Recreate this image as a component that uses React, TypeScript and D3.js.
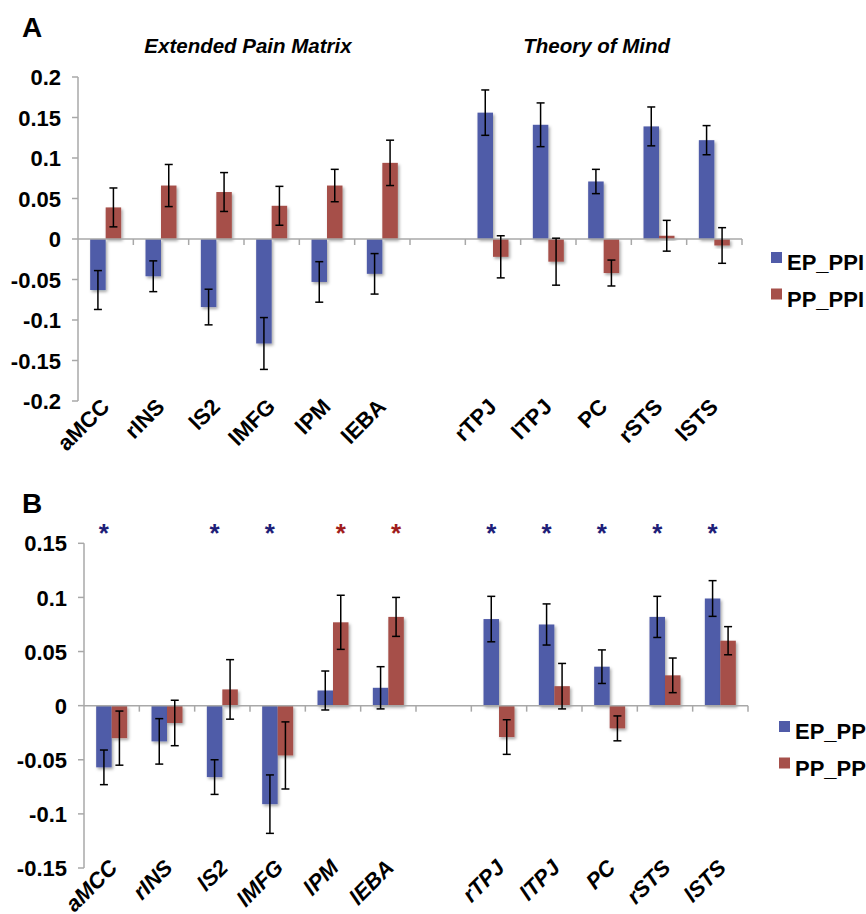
import React from "react";
import * as d3 from "d3";

const epmRegions = ["aMCC", "rINS", "lS2", "lMFG", "lPM", "lEBA"];
const tomRegions = ["rTPJ", "lTPJ", "PC", "rSTS", "lSTS"];
const regions = [...epmRegions, ...tomRegions];
const GAP = "__gap__";
const slots = [...epmRegions, GAP, ...tomRegions];
const seriesNames = ["EP_PPI", "PP_PPI"];

// Panel A
const aEP = [-0.063, -0.046, -0.084, -0.129, -0.053, -0.043, 0.156, 0.141, 0.071, 0.139, 0.122];
const aEPerr = [0.024, 0.019, 0.022, 0.032, 0.025, 0.025, 0.028, 0.027, 0.015, 0.024, 0.018];
const aPP = [0.039, 0.066, 0.058, 0.041, 0.066, 0.094, -0.022, -0.028, -0.042, 0.004, -0.008];
const aPPerr = [0.024, 0.026, 0.024, 0.024, 0.02, 0.028, 0.026, 0.029, 0.016, 0.019, 0.022];
const aTicks = [-0.2, -0.15, -0.1, -0.05, 0, 0.05, 0.1, 0.15, 0.2];

// Panel B
const bEP = [-0.057, -0.033, -0.066, -0.091, 0.014, 0.0165, 0.08, 0.075, 0.036, 0.082, 0.099];
const bEPerr = [0.016, 0.021, 0.016, 0.027, 0.018, 0.0195, 0.021, 0.019, 0.0155, 0.019, 0.0165];
const bPP = [-0.03, -0.016, 0.015, -0.046, 0.077, 0.082, -0.029, 0.018, -0.021, 0.028, 0.06];
const bPPerr = [0.025, 0.021, 0.0275, 0.031, 0.025, 0.018, 0.016, 0.021, 0.0115, 0.016, 0.013];
const bTicks = [-0.15, -0.1, -0.05, 0, 0.05, 0.1, 0.15];
const bSignificant = ["EP_PPI", "", "EP_PPI", "EP_PPI", "PP_PPI", "PP_PPI", "EP_PPI", "EP_PPI", "EP_PPI", "EP_PPI", "EP_PPI"];

const groupTitles = ["Extended Pain Matrix", "Theory of Mind"];

const BLUE = "#505ba8";
const RED = "#a6504a";
const STAR_BLUE = "#1e1e78";
const STAR_RED = "#a01c1c";
const AXIS = "#a8a8a8";
const FONT = "'Liberation Sans', Arial, Helvetica, sans-serif";

const fmt = (v: number) => String(+v.toFixed(2));

type PanelProps = {
  letter: string;
  letterY: number;
  x0: number;
  x1: number;
  yTop: number;
  yBottom: number;
  domain: [number, number];
  ticks: number[];
  ep: number[];
  epErr: number[];
  pp: number[];
  ppErr: number[];
  italicLabels: boolean;
  labelDx: number;
  labelDy: number;
  legendX: number;
  legendY: number;
  stars?: string[];
  starY?: number;
  titles?: boolean;
};

function Panel(p: PanelProps) {
  const x = d3.scaleBand<string>().domain(slots).range([p.x0, p.x1]).padding(0);
  const bw = x.bandwidth();
  const inner = d3.scaleBand<string>().domain(seriesNames).range([bw * 0.22, bw * 0.78]).padding(0);
  const y = d3.scaleLinear().domain(p.domain).range([p.yBottom, p.yTop]);
  const colors = [BLUE, RED];
  const vals = [p.ep, p.pp];
  const errs = [p.epErr, p.ppErr];
  const y0 = y(0);
  const capW = 4;

  const boundaries = d3.range(slots.length + 1).map((i) => p.x0 + i * bw);

  return (
    <g>
      <text x={22} y={p.letterY} fontFamily={FONT} fontWeight="bold" fontSize={28}>{p.letter}</text>
      {p.titles && (
        <g>
          <text x={(x(epmRegions[0])! + x(epmRegions[epmRegions.length - 1])! + bw) / 2 + 4} y={52.5} textAnchor="middle"
            fontFamily={FONT} fontWeight="bold" fontStyle="italic" fontSize={20.5}>{groupTitles[0]}</text>
          <text x={(x(tomRegions[0])! + x(tomRegions[tomRegions.length - 1])! + bw) / 2 - 7} y={52.5} textAnchor="middle"
            fontFamily={FONT} fontWeight="bold" fontStyle="italic" fontSize={20.5}>{groupTitles[1]}</text>
        </g>
      )}
      {/* y axis */}
      <line x1={p.x0} x2={p.x0} y1={y(p.domain[0])} y2={y(p.domain[1])} stroke={AXIS} strokeWidth={1.5} />
      {p.ticks.map((t) => (
        <g key={t}>
          <line x1={p.x0 - 6} x2={p.x0} y1={y(t)} y2={y(t)} stroke={AXIS} strokeWidth={1.5} />
          <text x={p.x0 - 17} y={y(t)} dy="0.37em" textAnchor="end" fontFamily={FONT} fontWeight="bold" fontSize={22}>{fmt(t)}</text>
        </g>
      ))}
      {/* bars */}
      {regions.map((r, i) => (
        <g key={r}>
          {seriesNames.map((s, k) => {
            const v = vals[k][i];
            const bx = x(r)! + inner(s)!;
            const w = inner.bandwidth();
            return (
              <rect key={s} x={bx} y={Math.min(y(v), y0)} width={w} height={Math.abs(y(v) - y0)} fill={colors[k]} filter="url(#shadow)" />
            );
          })}
        </g>
      ))}
      {/* x axis */}
      <line x1={p.x0} x2={p.x1} y1={y0} y2={y0} stroke={AXIS} strokeWidth={1.5} />
      {boundaries.slice(1).map((bx, i) => (
        <line key={i} x1={bx} x2={bx} y1={y0} y2={y0 + 6} stroke={AXIS} strokeWidth={1.5} />
      ))}
      {/* error bars */}
      {regions.map((r, i) => (
        <g key={"e" + r}>
          {seriesNames.map((s, k) => {
            const v = vals[k][i];
            const e = errs[k][i];
            const cx = x(r)! + inner(s)! + inner.bandwidth() / 2;
            return (
              <g key={s} stroke="#000" strokeWidth={1.5}>
                <line x1={cx} x2={cx} y1={y(v + e)} y2={y(v - e)} />
                <line x1={cx - capW} x2={cx + capW} y1={y(v + e)} y2={y(v + e)} />
                <line x1={cx - capW} x2={cx + capW} y1={y(v - e)} y2={y(v - e)} />
              </g>
            );
          })}
        </g>
      ))}
      {/* significance stars */}
      {p.stars && p.stars.map((s, i) => {
        if (!s) return null;
        const cx = x(regions[i])! + inner(s)! + inner.bandwidth() / 2;
        return (
          <text key={"s" + i} x={cx} y={p.starY! + 15} textAnchor="middle" fontFamily={FONT} fontWeight="bold" fontSize={26}
            fill={s === "EP_PPI" ? STAR_BLUE : STAR_RED}>*</text>
        );
      })}
      {/* x labels */}
      {regions.map((r) => {
        const cx = x(r)! + bw / 2 + p.labelDx;
        const ly = y(p.domain[0]) + p.labelDy;
        return (
          <text key={"l" + r} x={cx} y={ly} transform={`rotate(-45 ${cx} ${ly})`} textAnchor="end" fontFamily={FONT}
            fontWeight="bold" fontStyle={p.italicLabels ? "italic" : "normal"} fontSize={22}>{r}</text>
        );
      })}
      {/* legend */}
      {seriesNames.map((s, k) => (
        <g key={"lg" + s}>
          <rect x={p.legendX} y={p.legendY + k * 36.5} width={11} height={11} fill={colors[k]} />
          <text x={p.legendX + 16} y={p.legendY + k * 36.5 + 18} fontFamily={FONT} fontWeight="bold" fontSize={22}>{s}</text>
        </g>
      ))}
    </g>
  );
}

export default function App() {
  return (
    <div style={{ position: "absolute", left: 0, top: 0, width: 866, height: 914, overflow: "hidden", background: "#fff" }}>
      <svg width={866} height={914} style={{ display: "block" }}>
        <defs>
          <filter id="shadow" x="-30%" y="-30%" width="170%" height="170%">
            <feDropShadow dx={1.5} dy={2} stdDeviation={1.5} floodColor="#000" floodOpacity={0.35} />
          </filter>
        </defs>
        <rect width={866} height={914} fill="#fff" />
        <Panel letter="A" letterY={37} x0={78} x1={742} yTop={77} yBottom={401} domain={[-0.2, 0.2]} ticks={aTicks}
          ep={aEP} epErr={aEPerr} pp={aPP} ppErr={aPPerr} italicLabels={false} labelDx={5} labelDy={7}
          legendX={771} legendY={252} titles />
        <Panel letter="B" letterY={513} x0={84} x1={748} yTop={543.3} yBottom={868} domain={[-0.15, 0.15]} ticks={bTicks}
          ep={bEP} epErr={bEPerr} pp={bPP} ppErr={bPPerr} italicLabels={true} labelDx={7} labelDy={1}
          legendX={779} legendY={721} stars={bSignificant} starY={527} />
      </svg>
    </div>
  );
}
